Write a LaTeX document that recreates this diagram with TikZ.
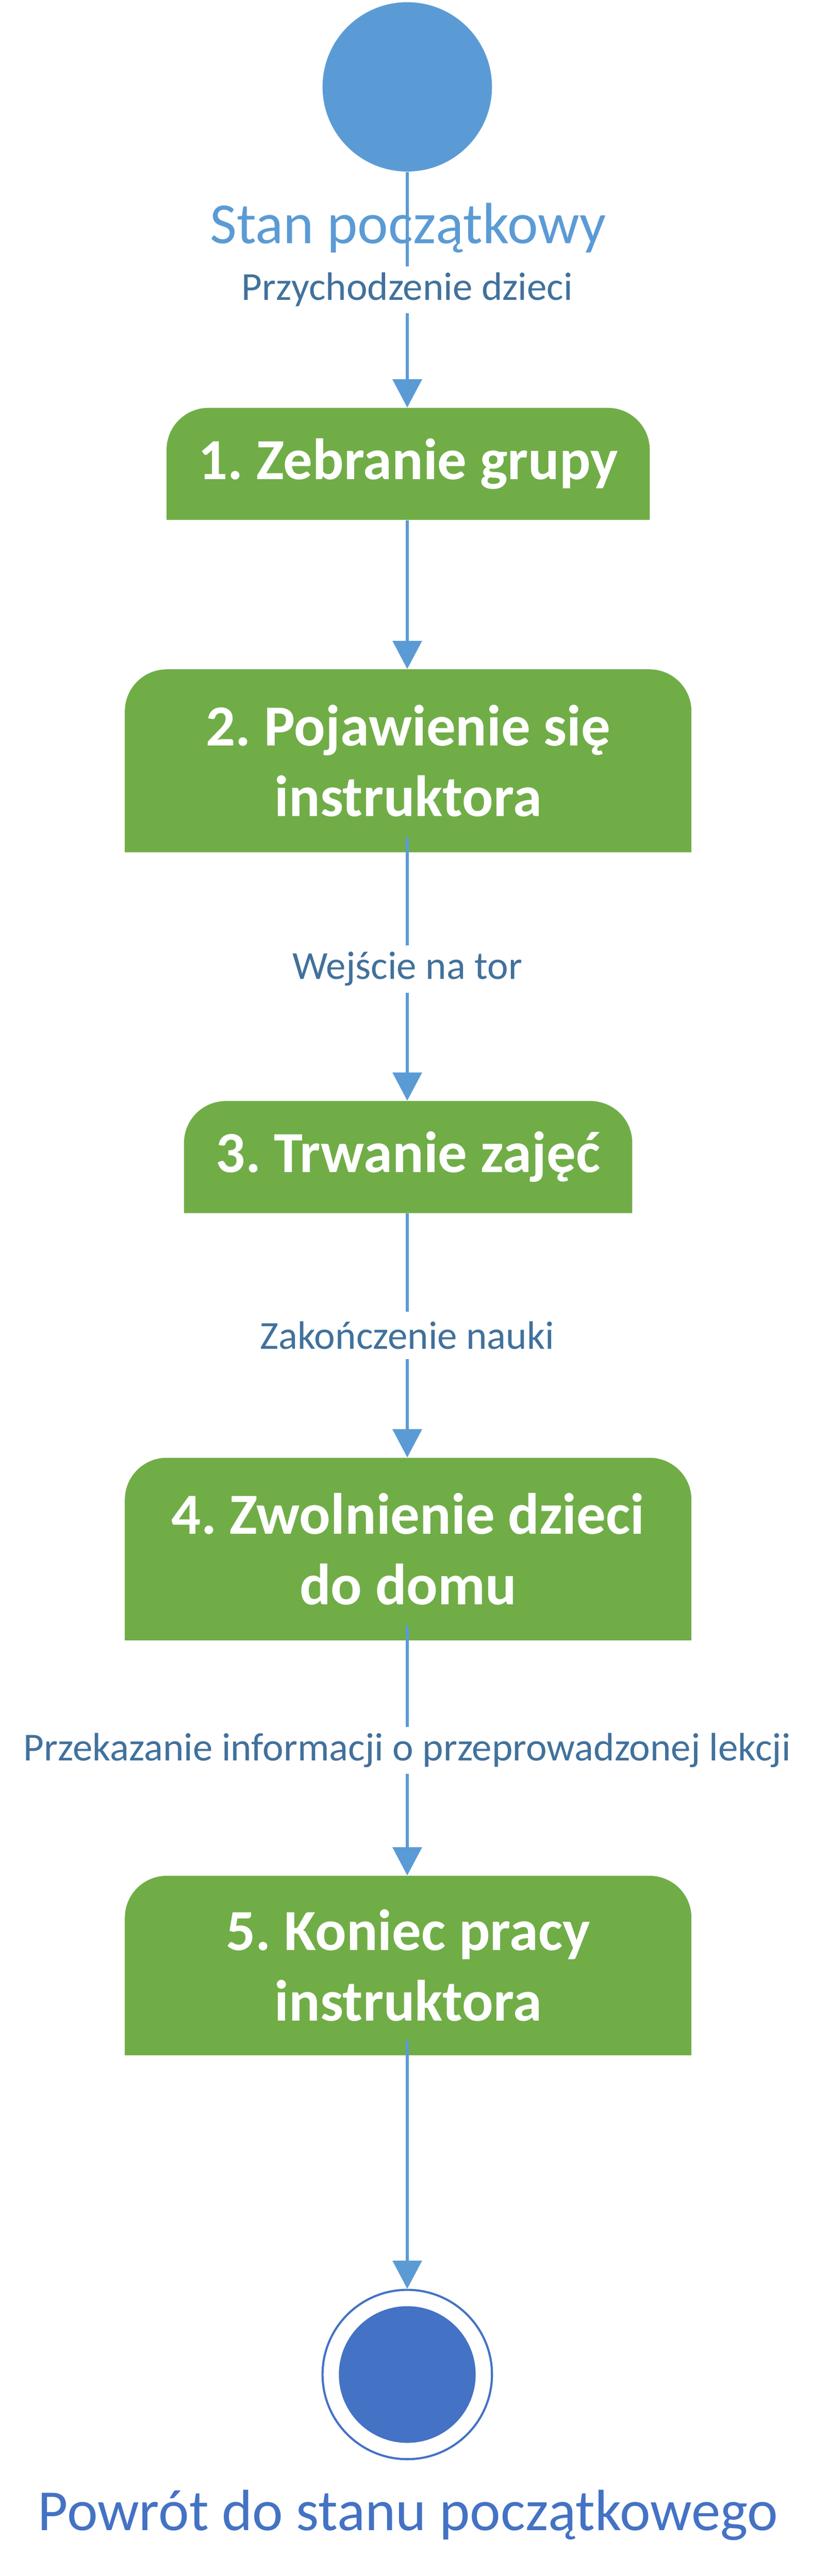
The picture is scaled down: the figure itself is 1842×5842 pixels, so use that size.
\documentclass[tikz,border=0pt]{standalone}
\usepackage{fontspec}
\setmainfont{Carlito}
\frenchspacing
\usetikzlibrary{arrows.meta}
\definecolor{startblue}{HTML}{5B9BD5}
\definecolor{endblue}{HTML}{4472C4}
\definecolor{actgreen}{HTML}{70AD47}
\definecolor{lblblue}{HTML}{41719C}
\begin{document}
\begin{tikzpicture}[x=0.25pt, y=-0.25pt,
    start/.style={circle, fill=startblue, minimum size=96pt, inner sep=0pt},
    final/.style={circle, draw=endblue, line width=1.2pt, minimum size=96pt, inner sep=0pt,
      path picture={\fill[endblue] (path picture bounding box.center) circle[radius=38.75pt];}},
    act/.style={text=white, font=\fontsize{33}{40}\selectfont\bfseries, align=center, inner sep=0pt,
      path picture={\fill[actgreen] (path picture bounding box.south west)
        -- ([yshift=-23.75pt]path picture bounding box.north west) arc[start angle=180, end angle=90, radius=23.75pt]
        -- ([xshift=-23.75pt]path picture bounding box.north east) arc[start angle=90, end angle=0, radius=23.75pt]
        -- (path picture bounding box.south east) -- cycle;}},
    title/.style={font=\fontsize{33}{40}\selectfont, anchor=base},
    lbl/.style={fill=white, text=lblblue, font=\fontsize{22.5}{27}\selectfont, inner xsep=2pt, inner ysep=0pt, minimum height=26.75pt},
    flow/.style={startblue, line width=1.5pt, -{Triangle[length=16pt, width=16.5pt]}}]
  \useasboundingbox (0,0) rectangle (1842,5842);

  \node[start] (start) at (923,197) {};
  \node[title, text=startblue] (startname) at (925,552) {Stan początkowy};
  \node[act, minimum width=273.75pt, minimum height=63.5pt] (b1) at (925,1052) {1. Zebranie grupy};
  \node[act, minimum width=321pt, minimum height=103.75pt] (b2) at (925,1725.5) {2. Pojawienie się\\instruktora};
  \node[act, minimum width=254pt, minimum height=63.5pt] (b3) at (925,2624) {3. Trwanie zajęć};
  \node[act, minimum width=321pt, minimum height=103.5pt] (b4) at (925,3513) {4. Zwolnienie dzieci\\do domu};
  \node[act, minimum width=321pt, minimum height=101.75pt] (b5) at (925,4457.5) {5. Koniec pracy\\instruktora};
  \node[final] (end) at (923,5385) {};
  \node[title, text=endblue] (endname) at (925,5739) {Powrót do stanu początkowego};

  % przejscia
  \draw[flow] (start) -- node[lbl] {Przychodzenie dzieci} (start |- b1.north);
  \draw[flow] (start |- b1.south) -- (start |- b2.north);
  \draw[flow] ([yshift=8.75pt]start |- b2.south) -- node[lbl] {Wejście na tor} (start |- b3.north);
  \draw[flow] (start |- b3.south) -- node[lbl] {Zakończenie nauki} (start |- b4.north);
  \draw[flow] ([yshift=8.75pt]start |- b4.south) -- node[lbl] {Przekazanie informacji o przeprowadzonej lekcji} (start |- b5.north);
  \draw[flow] ([yshift=8.75pt]start |- b5.south) -- (end);
\end{tikzpicture}
\end{document}
